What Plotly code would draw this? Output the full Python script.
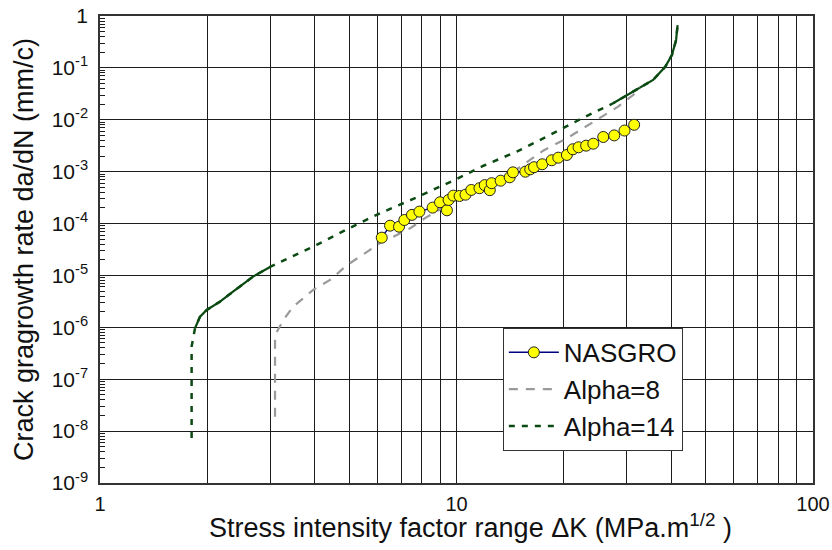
import plotly.graph_objects as go
import numpy as np

# NASGRO test data
nas_dk = [6.17, 6.51, 6.90, 7.14, 7.5, 7.87, 8.57, 8.99, 9.40, 9.5, 9.8, 10.2, 10.6,
          11.0, 11.6, 12.0, 12.4, 12.55, 13.3, 14.1, 14.4, 15.6, 16.1, 16.5, 17.4,
          18.5, 19.3, 20.4, 21.2, 22.0, 23.1, 24.2, 25.8, 27.7, 29.6, 31.5]
nas_rate = [5.35e-5, 9.1e-5, 8.7e-5, 1.17e-4, 1.47e-4, 1.7e-4, 2.03e-4, 2.57e-4, 1.8e-4,
            2.85e-4, 3.45e-4, 3.4e-4, 3.6e-4, 4.44e-4, 4.8e-4, 5.5e-4, 4.4e-4, 6.0e-4,
            6.7e-4, 7.8e-4, 9.7e-4, 1.0e-3, 1.11e-3, 1.22e-3, 1.39e-3, 1.66e-3, 1.86e-3,
            2.1e-3, 2.7e-3, 2.95e-3, 3.17e-3, 3.46e-3, 4.66e-3, 5.0e-3, 6.2e-3, 8.0e-3]

# Alpha = 8 curve
a8_dk = [3.097, 3.097, 3.27, 3.48, 3.97, 4.42, 4.92, 5.48, 6.1, 6.8, 7.41, 8.16, 10.0,
         13.8, 16.1, 17.5, 20.4, 23.2, 25.5, 28.4, 31.3, 32.7]
a8_rate = [1.9e-8, 7.1e-7, 1.39e-6, 2.5e-6, 5.3e-6, 8.2e-6, 1.56e-5, 2.57e-5, 4.2e-5,
           6.0e-5, 8.1e-5, 1.27e-4, 2.9e-4, 8.0e-4, 1.73e-3, 2.54e-3, 4.4e-3, 7.6e-3,
           1.15e-2, 1.79e-2, 3.0e-2, 4.2e-2]

# Alpha = 14 curve
a14_dk = [1.807, 1.807, 1.847, 1.908, 1.992, 2.171, 2.361, 2.687, 3.0, 4.05, 5.03, 6.1,
          7.56, 10.0, 11.9, 14.75, 18.3, 22.7, 27.5, 31.3, 35.6, 38.5, 40.2, 41.3, 41.7]
a14_rate = [7.4e-9, 4.25e-7, 9.6e-7, 1.61e-6, 2.16e-6, 3.13e-6, 4.87e-6, 9.5e-6, 1.46e-5,
            3.87e-5, 8.3e-5, 1.58e-4, 2.98e-4, 7.2e-4, 1.3e-3, 2.43e-3, 5.1e-3, 1.1e-2,
            2.08e-2, 3.48e-2, 5.85e-2, 0.105, 0.177, 0.345, 0.67]

x_tickvals = [1, 10, 100]
x_ticktext = ["1", "10", "100"]
y_exps = [0, -1, -2, -3, -4, -5, -6, -7, -8, -9]
y_tickvals = [10.0 ** e for e in y_exps]
y_ticktext = ["1"] + ["10<sup>%d</sup>" % e for e in y_exps[1:]]
x_title = "Stress intensity factor range \u0394K (MPa.m<sup>1/2</sup> )"
y_title = "Crack gragrowth rate da/dN (mm/c)"

FONT = "Liberation Sans, Arial, sans-serif"
GREEN = "#0b4a12"
GRAY = "#9a9a9a"
GRID = "#1c1c1c"

fig = go.Figure()

# solid-looking dense parts of the Alpha=14 curve (segments of same data)
a14x = np.array(a14_dk)
a14y = np.array(a14_rate)
low = (a14x >= 1.84) & (a14x <= 3.0)
high = a14x >= 27.5
for m in (low, high):
    fig.add_trace(go.Scatter(x=a14x[m], y=a14y[m], mode="lines",
                             line=dict(color=GREEN, width=2.2), showlegend=False,
                             hoverinfo="skip"))

fig.add_trace(go.Scatter(x=a8_dk, y=a8_rate, mode="lines", name="Alpha=8",
                         line=dict(color=GRAY, width=2.2, dash="9px,8px"),
                         legendgroup="b", legendrank=2))
fig.add_trace(go.Scatter(x=a14_dk, y=a14_rate, mode="lines", name="Alpha=14",
                         line=dict(color=GREEN, width=2.5, dash="6px,7px"),
                         legendgroup="c", legendrank=3))
fig.add_trace(go.Scatter(x=nas_dk, y=nas_rate, mode="lines+markers", name="NASGRO",
                         line=dict(color="#000080", width=1.5),
                         marker=dict(color="#ffff00", size=11,
                                     line=dict(color="#222222", width=1)),
                         legendgroup="a", legendrank=1))

fig.update_xaxes(type="log", range=[0, 2], tickvals=x_tickvals, ticktext=x_ticktext,
                 showgrid=True, gridcolor=GRID, gridwidth=1,
                 ticks="inside", ticklen=7, tickcolor=GRID,
                 minor=dict(dtick="D1", showgrid=True, gridcolor=GRID, gridwidth=1,
                            ticks="inside", ticklen=5, tickcolor=GRID),
                 showline=True, linecolor="#333333", linewidth=1.5, mirror=True,
                 zeroline=False, ticklabelstandoff=2, automargin=False,
                 tickfont=dict(family=FONT, size=20, color="#111111"))
fig.update_yaxes(type="log", range=[-9, 0], tickvals=y_tickvals, ticktext=y_ticktext,
                 showgrid=True, gridcolor=GRID, gridwidth=1,
                 ticks="inside", ticklen=7, tickcolor=GRID,
                 minor=dict(dtick="D1", showgrid=False, ticks="inside", ticklen=5,
                            tickcolor=GRID),
                 showline=True, linecolor="#333333", linewidth=1.5, mirror=True,
                 zeroline=False, ticklabelstandoff=6, automargin=False,
                 tickfont=dict(family=FONT, size=21, color="#111111"),
                 title=dict(text=y_title,
                            font=dict(family=FONT, size=27, color="#111111"), standoff=10))

fig.add_annotation(text=x_title, xref="paper", yref="paper",
                   x=0.519, y=-0.093, xanchor="center", yanchor="middle",
                   showarrow=False, font=dict(family=FONT, size=27, color="#111111"))

fig.update_layout(
    width=832, height=550,
    margin=dict(l=100, r=19, t=16, b=67),
    paper_bgcolor="white", plot_bgcolor="white",
    showlegend=True,
    legend=dict(x=0.565, y=0.332, xanchor="left", yanchor="top",
                bgcolor="white", bordercolor="#333333", borderwidth=1,
                font=dict(family=FONT, size=26, color="#111111"),
                tracegroupgap=5, itemwidth=50, traceorder="normal"),
)

fig.write_html("out.html")
